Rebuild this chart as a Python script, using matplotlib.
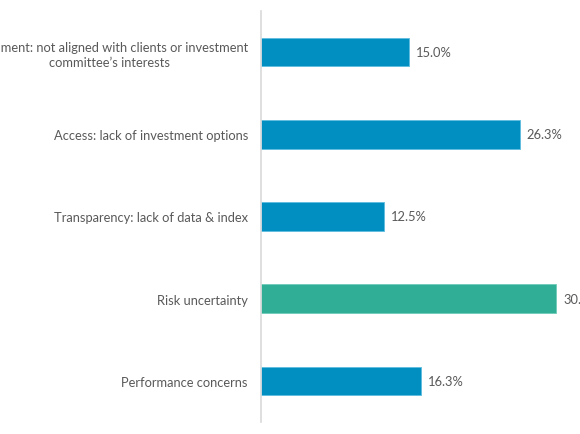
import matplotlib
matplotlib.use("Agg")
import matplotlib.pyplot as plt

categories = [
    "Alignment: not aligned with clients or investment\ncommittee\u2019s interests",
    "Access: lack of investment options",
    "Transparency: lack of data & index",
    "Risk uncertainty",
    "Performance concerns",
]
values = [15.0, 26.3, 12.5, 30.0, 16.3]
value_labels = ["15.0%", "26.3%", "12.5%", "30.0%", "16.3%"]
highlight = "Risk uncertainty"

BLUE = "#008FC0"
TEAL = "#30AE96"
TEXT = "#595959"

plt.rcParams['font.family'] = ['Lato', 'DejaVu Sans']

fig = plt.figure(figsize=(5.8, 4.35), dpi=100)
left_px, right_px = 261, 580
ax = fig.add_axes([left_px / 580, 1 - 423 / 435, (right_px - left_px) / 580, 411 / 435])

colors = [TEAL if c == highlight else BLUE for c in categories]
edges = ["#6FCBB8" if c == highlight else "#5DBCE0" for c in categories]
y = list(range(len(categories)))
ax.barh(y, values, height=0.35, color=colors, edgecolor=edges, linewidth=0.6)

px_per_unit = 9.84
ax.set_xlim(0, (right_px - left_px) / px_per_unit)
ax.set_ylim(len(categories) - 0.5, -0.5)
ax.set_yticks(y)
ax.set_yticklabels(categories, fontsize=9.3, color=TEXT)
for lab in ax.get_yticklabels():
    lab.set_multialignment('center')
    lab.set_linespacing(1.3)
ax.tick_params(axis='y', length=0, pad=9.4)
ax.set_xticks([])

for s in ['top', 'right', 'bottom']:
    ax.spines[s].set_visible(False)
ax.spines['left'].set_color('#D9D9D9')
ax.spines['left'].set_linewidth(1.2)

for yi, v, t in zip(y, values, value_labels):
    ax.annotate(t, (v, yi), xytext=(7, 0), textcoords='offset pixels',
                va='center', ha='left', fontsize=9.3, color=TEXT)

fig.savefig("out.png", dpi=100)
